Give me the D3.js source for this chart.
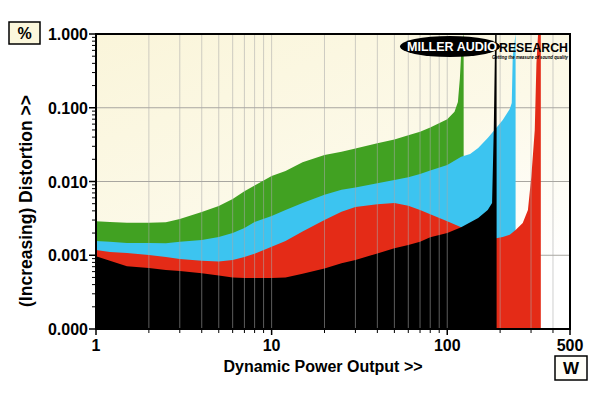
<!DOCTYPE html>
<html>
<head>
<meta charset="utf-8">
<script src="https://d3js.org/d3.v7.min.js"></script>
<style>
  html, body { margin: 0; padding: 0; background: #fff; }
  svg { display: block; font-family: "Liberation Sans", Arial, Helvetica, sans-serif; }
</style>
</head>
<body>
<div id="chart"></div>
<script>
// power (W) and distortion (%), one pair of arrays per trace
const greenW   = [1, 1.2, 1.5, 2, 2.5, 3, 4, 5, 6, 7, 8, 10, 12, 15, 20, 25, 30, 40, 50, 60, 70, 80, 100, 110, 115, 118, 121, 124];
const greenPct = [0.0029, 0.00283, 0.00275, 0.00275, 0.0028, 0.0031, 0.00386, 0.00465, 0.0058, 0.0074, 0.0088, 0.0119, 0.0139, 0.0182, 0.0229, 0.0254, 0.0281, 0.033, 0.0372, 0.0423, 0.0471, 0.0539, 0.0696, 0.0885, 0.12, 0.25, 0.8, 1.0];

const blueW   = [1, 1.2, 1.5, 2, 2.5, 3, 4, 5, 6, 7, 8, 10, 12, 15, 20, 25, 30, 40, 50, 60, 70, 80, 100, 120, 135, 150, 170, 190, 207, 227, 233, 236, 245];
const bluePct = [0.00156, 0.00152, 0.00147, 0.00147, 0.00145, 0.00152, 0.00161, 0.00177, 0.002, 0.00234, 0.00282, 0.0034, 0.0041, 0.0051, 0.0066, 0.0077, 0.0083, 0.0095, 0.0105, 0.0114, 0.0126, 0.0141, 0.0168, 0.0217, 0.0236, 0.0284, 0.0389, 0.053, 0.068, 0.096, 0.116, 0.5, 1.0];

const redW   = [1, 1.2, 1.5, 2, 2.5, 3, 4, 5, 6, 7, 8, 10, 12, 15, 20, 25, 30, 40, 50, 60, 70, 80, 100, 120, 150, 190, 207, 227, 245, 269, 288, 301, 315, 322, 329, 341];
const redPct = [0.00118, 0.00111, 0.00107, 0.00101, 0.00095, 0.00089, 0.00084, 0.00082, 0.00086, 0.00095, 0.00105, 0.0013, 0.00156, 0.0021, 0.003, 0.0039, 0.0045, 0.0049, 0.0051, 0.0047, 0.0041, 0.0036, 0.0029, 0.0024, 0.002, 0.0017, 0.00177, 0.0019, 0.0022, 0.00273, 0.0041, 0.0115, 0.05, 0.4, 1.0, 1.0];

const blackW   = [1, 1.2, 1.5, 2, 2.5, 3, 4, 5, 6, 7, 8, 10, 12, 15, 20, 25, 30, 40, 50, 60, 70, 80, 100, 120, 150, 170, 180, 184, 187.5, 191];
const blackPct = [0.00097, 0.00084, 0.00071, 0.00067, 0.00063, 0.00061, 0.00057, 0.00053, 0.0005, 0.00049, 0.00049, 0.00049, 0.0005, 0.00056, 0.00066, 0.00078, 0.00086, 0.00106, 0.00124, 0.00138, 0.00152, 0.00175, 0.002, 0.0024, 0.0032, 0.0041, 0.0051, 0.05, 1.0, 1.0];

const yTicks = [0.0001, 0.001, 0.01, 0.1, 1];
const yTickLabels = ["0.000", "0.001", "0.010", "0.100", "1.000"];
const xTicks = [1, 10, 100, 500];
const xTickLabels = ["1", "10", "100", "500"];

const W = 600, H = 393;
const m = { left: 96, right: 30, top: 34, bottom: 64 };

const svg = d3.select('#chart').append('svg')
    .attr('width', W).attr('height', H);

const x = d3.scaleLog().domain([1, 500]).range([m.left, W - m.right]);
const y = d3.scaleLog().domain([0.0001, 1]).range([H - m.bottom, m.top]);

// background gradient
const defs = svg.append('defs');
const grad = defs.append('linearGradient').attr('id', 'bg')
    .attr('x1', 0).attr('y1', 0).attr('x2', 0.6).attr('y2', 1);
grad.append('stop').attr('offset', '0%').attr('stop-color', '#faf5da');
grad.append('stop').attr('offset', '55%').attr('stop-color', '#fcf9e8');
grad.append('stop').attr('offset', '100%').attr('stop-color', '#ffffff');
defs.append('clipPath').attr('id', 'plotclip').append('rect')
    .attr('x', x(1)).attr('y', y(1))
    .attr('width', x(500) - x(1)).attr('height', y(0.0001) - y(1));

svg.append('rect')
    .attr('x', x(1)).attr('y', y(1))
    .attr('width', x(500) - x(1)).attr('height', y(0.0001) - y(1))
    .attr('fill', 'url(#bg)');

// minor values on both axes
const minorX = [];
[1, 10, 100].forEach(d => { for (let k = 2; k <= 9; k++) if (d * k < 500) minorX.push(d * k); });
minorX.push(10, 100);
const minorY = [];
[0.0001, 0.001, 0.01, 0.1].forEach(d => { for (let k = 2; k <= 9; k++) minorY.push(d * k); });

const plot = svg.append('g').attr('clip-path', 'url(#plotclip)');

// horizontal grid sits under the traces
plot.selectAll('.hgrid').data([0.001, 0.01, 0.1]).enter().append('line')
    .attr('x1', x(1)).attr('x2', x(500))
    .attr('y1', d => y(d)).attr('y2', d => y(d))
    .attr('stroke', '#a8a6a0').attr('stroke-width', 1);

const floor = y(0.0001);
const area = d3.area()
    .x(d => x(d[0]))
    .y0(floor)
    .y1(d => y(d[1]));

const traces = [
    { w: greenW, p: greenPct, c: '#41a122' },
    { w: blueW,  p: bluePct,  c: '#3cc4f0' },
    { w: redW,   p: redPct,   c: '#e42b17' },
    { w: blackW, p: blackPct, c: '#000000' }
];
traces.forEach(t => {
    plot.append('path')
        .datum(d3.zip(t.w, t.p))
        .attr('d', area)
        .attr('fill', t.c);
});

// vertical grid drawn over the traces
plot.selectAll('.vgrid').data(minorX).enter().append('line')
    .attr('x1', d => x(d)).attr('x2', d => x(d))
    .attr('y1', y(1)).attr('y2', floor)
    .attr('stroke', '#a9a9a9').attr('stroke-opacity', 0.55).attr('stroke-width', 1);

// frame
svg.append('rect')
    .attr('x', x(1)).attr('y', y(1))
    .attr('width', x(500) - x(1)).attr('height', floor - y(1))
    .attr('fill', 'none').attr('stroke', '#000').attr('stroke-width', 2);

// y axis ticks
svg.selectAll('.ymin').data(minorY).enter().append('line')
    .attr('x1', x(1) - 4).attr('x2', x(1))
    .attr('y1', d => y(d)).attr('y2', d => y(d))
    .attr('stroke', '#000').attr('stroke-width', 1);
svg.selectAll('.ymaj').data(yTicks).enter().append('line')
    .attr('x1', x(1) - 7).attr('x2', x(1))
    .attr('y1', d => y(d)).attr('y2', d => y(d))
    .attr('stroke', '#000').attr('stroke-width', 1.5);
svg.selectAll('.ylab').data(yTicks).enter().append('text')
    .attr('x', x(1) - 8).attr('y', d => y(d) + 6)
    .attr('text-anchor', 'end')
    .attr('font-size', 16).attr('font-weight', 'bold')
    .text((d, i) => yTickLabels[i]);

// x axis ticks
svg.selectAll('.xmin').data(minorX.filter(d => d !== 10 && d !== 100)).enter().append('line')
    .attr('x1', d => x(d)).attr('x2', d => x(d))
    .attr('y1', floor).attr('y2', floor + 4)
    .attr('stroke', '#000').attr('stroke-width', 1);
svg.selectAll('.xmaj').data(xTicks).enter().append('line')
    .attr('x1', d => x(d)).attr('x2', d => x(d))
    .attr('y1', floor).attr('y2', floor + 6)
    .attr('stroke', '#000').attr('stroke-width', 1.5);
svg.selectAll('.xlab').data(xTicks).enter().append('text')
    .attr('x', d => x(d)).attr('y', floor + 22)
    .attr('text-anchor', 'middle')
    .attr('font-size', 16).attr('font-weight', 'bold')
    .text((d, i) => xTickLabels[i]);

// axis titles
svg.append('text')
    .attr('x', 323).attr('y', 372)
    .attr('text-anchor', 'middle')
    .attr('font-size', 16).attr('font-weight', 'bold')
    .text('Dynamic Power Output >>');
svg.append('text')
    .attr('transform', 'translate(32,' + 201 + ') rotate(-90)')
    .attr('text-anchor', 'middle')
    .attr('font-size', 17.5).attr('font-weight', 'bold')
    .text('(Increasing) Distortion >>');

// unit boxes
svg.append('rect').attr('x', 9).attr('y', 22).attr('width', 31).attr('height', 22)
    .attr('fill', '#fbf7dc').attr('stroke', '#000').attr('stroke-width', 1.5);
svg.append('text').attr('x', 24.5).attr('y', 39).attr('text-anchor', 'middle')
    .attr('font-size', 16).attr('font-weight', 'bold').text('%');
svg.append('rect').attr('x', 555).attr('y', 356).attr('width', 32).attr('height', 24)
    .attr('fill', '#fffef8').attr('stroke', '#000').attr('stroke-width', 1.5);
svg.append('text').attr('x', 571).attr('y', 374).attr('text-anchor', 'middle')
    .attr('font-size', 17).attr('font-weight', 'bold').text('W');

// logo
const logo = svg.append('g');
logo.append('ellipse').attr('cx', 450).attr('cy', 46.5).attr('rx', 50).attr('ry', 10.5).attr('fill', '#000');
logo.append('text').attr('x', 407).attr('y', 51).attr('fill', '#fff')
    .attr('font-size', 12.5).attr('font-weight', 'bold')
    .attr('textLength', 90).attr('lengthAdjust', 'spacingAndGlyphs')
    .text('MILLER AUDIO');
logo.append('text').attr('x', 499).attr('y', 52).attr('fill', '#000')
    .attr('font-size', 13.5).attr('font-weight', 'bold')
    .attr('textLength', 69).attr('lengthAdjust', 'spacingAndGlyphs')
    .text('RESEARCH');
logo.append('text').attr('x', 492).attr('y', 58.5).attr('fill', '#000')
    .attr('font-size', 6).attr('font-weight', 'bold').attr('font-style', 'italic')
    .attr('textLength', 76).attr('lengthAdjust', 'spacingAndGlyphs')
    .text('Getting the measure of sound quality');
</script>
</body>
</html>
